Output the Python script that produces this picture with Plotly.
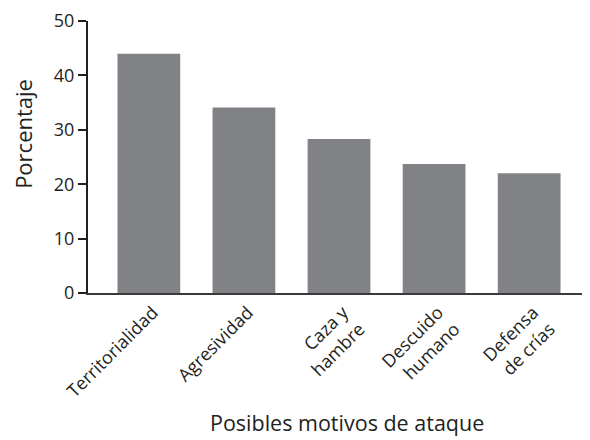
import plotly.graph_objects as go

categories = ["Territorialidad", "Agresividad", "Caza y<br>hambre", "Descuido<br>humano", "Defensa<br>de crías"]
values = [44.0, 34.1, 28.3, 23.7, 22.0]
y_ticks = [0, 10, 20, 30, 40, 50]
x_title = "Posibles motivos de ataque"
y_title = "Porcentaje"

FONT = "Open Sans"
fig = go.Figure(go.Bar(x=categories, y=values, marker=dict(color="#818285", line=dict(width=0))))

fig.update_layout(
    width=582, height=432,
    margin=dict(l=80, r=0, t=8, b=147),
    paper_bgcolor="white", plot_bgcolor="white",
    bargap=0.34,
    showlegend=False,
    font=dict(family=FONT, size=18, color="#231f20"),
    annotations=[
        dict(text=x_title, xref="paper", yref="paper", x=0.516, y=-0.4765,
             xanchor="center", yanchor="middle", showarrow=False,
             font=dict(size=21.5, family=FONT, color="#231f20")),
        dict(text=y_title, xref="paper", yref="paper", x=-0.1295, y=0.585,
             xanchor="center", yanchor="middle", showarrow=False, textangle=-90,
             font=dict(size=22, family=FONT, color="#231f20")),
    ],
)
fig.update_xaxes(
    range=[-0.64, 4.64], showline=True, linewidth=2, linecolor="#3a3a3a",
    ticks="", tickangle=-45, tickfont=dict(size=18),
    ticklabelstandoff=0, ticklabelshift=4,
    showgrid=False, zeroline=False,
)
fig.update_yaxes(
    range=[0, 50], tickvals=y_ticks, showline=True, linewidth=2, linecolor="#231f20",
    ticks="outside", ticklen=8, tickwidth=2, tickcolor="#231f20",
    ticklabeloverflow="allow",
    showgrid=False, zeroline=False, tickfont=dict(size=18),
)
fig.write_html("out.html")
